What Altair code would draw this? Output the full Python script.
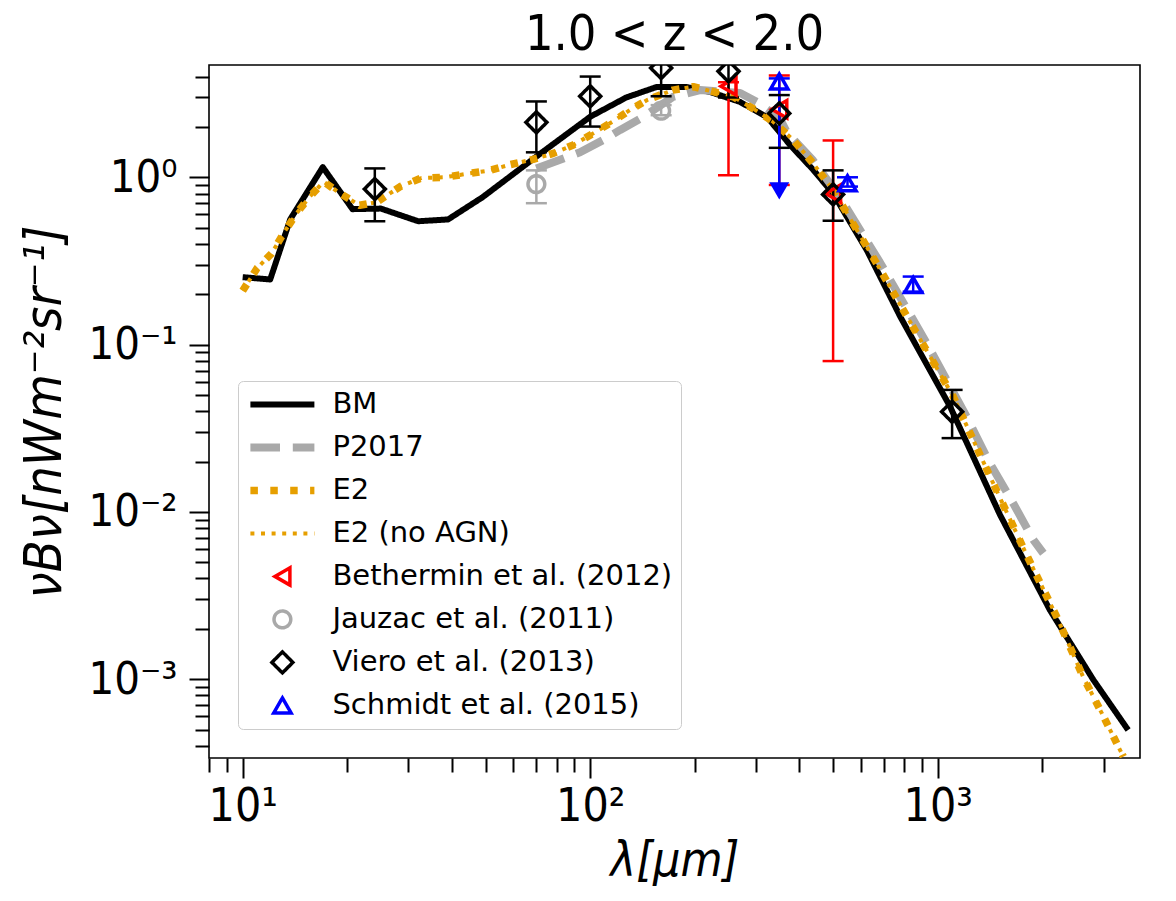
import altair as alt
import pandas as pd

# ---------------- model curves ----------------
BM_LAM = [10, 12, 13.7, 17, 20.7, 25, 32, 39, 49, 70, 100, 127, 155, 190, 221, 270,
          323, 376, 438, 500, 625, 780, 1086, 1511, 2103, 2805, 3531]
BM_VAL = [0.253, 0.245, 0.56, 1.15, 0.645, 0.65, 0.546, 0.56, 0.76, 1.33, 2.3, 3.0,
          3.46, 3.46, 3.24, 2.82, 2.29, 1.56, 1.11, 0.80, 0.367, 0.147, 0.0425,
          0.0096, 0.00259, 0.00099, 0.000497]

P17_LAM = [70, 93.5, 109, 122, 142, 173, 207, 270, 302, 351, 368, 438, 523, 682,
           929, 1211, 1413, 1651, 1885, 2013]
P17_VAL = [1.13, 1.41, 1.67, 1.92, 2.29, 3.02, 3.32, 3.19, 2.82, 2.25, 1.86, 1.26,
           0.76, 0.31, 0.102, 0.037, 0.0195, 0.0112, 0.0068, 0.00566]

E2_LAM = [10, 11, 12.1, 13.2, 14.3, 15.6, 17.1, 19.1, 21.7, 24.3, 28.4, 32.7, 38.2,
          44.2, 51.5, 58.8, 68.5, 78.3, 89.4, 102, 116, 130, 146, 173, 198, 258,
          294, 336, 384, 438, 500, 667, 832, 1109, 1416, 1804, 2200, 2622, 2998, 3421]
E2_VAL = [0.21, 0.286, 0.35, 0.473, 0.61, 0.766, 0.94, 0.80, 0.68, 0.71, 0.88, 0.99,
          1.0, 1.05, 1.10, 1.19, 1.28, 1.39, 1.56, 1.83, 2.15, 2.52, 2.90, 3.32, 3.48,
          3.03, 2.58, 2.15, 1.67, 1.21, 0.84, 0.306, 0.137, 0.0488, 0.0162, 0.0055,
          0.00236, 0.00103, 0.00060, 0.000344]

# E2 without AGN lies under E2 over the whole range
E2N_LAM = list(E2_LAM)
E2N_VAL = list(E2_VAL)

# ---------------- observations ----------------
BET_LAM = [250, 350, 500]
BET_VAL = [3.5, 2.55, 0.8]
BET_LO = [1.03, 0.9, 0.0797]
BET_HI = [3.7, 4.06, 1.66]

JAU_LAM = [70, 160]
JAU_VAL = [0.91, 2.5]
JAU_LO = [0.70, 2.35]
JAU_HI = [1.10, 2.70]

VIE_LAM = [24, 70, 100, 160, 250, 350, 500, 1100]
VIE_VAL = [0.85, 2.13, 3.05, 4.5, 4.3, 2.41, 0.79, 0.0397]
VIE_LO = [0.546, 1.41, 2.01, 3.05, 3.0, 1.50, 0.55, 0.0276]
VIE_HI = [1.13, 2.84, 4.0, 6.0, 5.5, 3.10, 1.10, 0.0536]

SCH_LAM = [350, 550, 850]
SCH_VAL = [3.74, 0.92, 0.227]
SCH_LO = [0.83, 0.88, 0.207]
SCH_HI = [3.90, 1.00, 0.255]
SCH_LIMIT = [True, False, False]   # drawn as a downward arrow

# ---------------- series names and styles ----------------
SERIES = ["BM", "P2017", "E2", "E2 (no AGN)", "Bethermin et al. (2012)",
          "Jauzac et al. (2011)", "Viero et al. (2013)", "Schmidt et al. (2015)"]
COLORS = ["#000000", "#a9a9a9", "#e69f00", "#e69f00", "#ff0000", "#a9a9a9",
          "#000000", "#0000ff"]
DASHES = [[1, 0], [29.6, 12.8], [7.5, 12.4], [4, 6.6], [1, 0], [1, 0], [1, 0], [1, 0]]
SHAPES = ["stroke", "stroke", "stroke", "stroke", "triangle-left", "circle",
          "diamond", "triangle-up"]
SIZES = [4096, 4096, 4096, 4096, 300, 280, 441, 300]
WIDTHS = [6, 8, 7.5, 4, 3.5, 3.5, 3.5, 3.5]
COLOR_OF = dict(zip(SERIES, COLORS))

X_DOMAIN = [8, 3820]
Y_DOMAIN = [3.38e-4, 4.69]

# ---------------- tables ----------------
def curve(name, lam, val):
    return pd.DataFrame({"series": name, "lam": lam, "val": val,
                         "idx": list(range(len(lam)))})

obs_sets = [
    (SERIES[4], BET_LAM, BET_VAL, BET_LO, BET_HI, [False] * 3),
    (SERIES[5], JAU_LAM, JAU_VAL, JAU_LO, JAU_HI, [False] * 2),
    (SERIES[6], VIE_LAM, VIE_VAL, VIE_LO, VIE_HI, [False] * 8),
    (SERIES[7], SCH_LAM, SCH_VAL, SCH_LO, SCH_HI, SCH_LIMIT),
]
pts_rows, err_rows, cap_rows, arrow_rows = [], [], [], []
for name, lam, val, lo, hi, lim in obs_sets:
    c = COLOR_OF[name]
    for l, v, a, b, u in zip(lam, val, lo, hi, lim):
        pts_rows.append({"series": name, "lam": l, "val": v})
        err_rows.append({"series": name, "col": c, "lam": l, "lo": a, "hi": b})
        cap_rows.append({"series": name, "col": c, "lam": l, "val": b})
        if u:
            arrow_rows.append({"series": name, "col": c, "lam": l, "val": a})
        else:
            cap_rows.append({"series": name, "col": c, "lam": l, "val": a})
pts = pd.DataFrame(pts_rows)
err = pd.DataFrame(err_rows)
caps = pd.DataFrame(cap_rows)
arrows = pd.DataFrame(arrow_rows)

# ---------------- scales & axes ----------------
x_major = [10, 100, 1000]
x_minor = [8, 9] + [k * 10 for k in range(2, 10)] + [k * 100 for k in range(2, 10)] + [2000, 3000]
y_major = [0.001, 0.01, 0.1, 1]
y_minor = [k * 10.0 ** e for e in range(-4, 1) for k in range(2, 10)
           if Y_DOMAIN[0] <= k * 10.0 ** e <= Y_DOMAIN[1]]

xs = alt.Scale(type="log", domain=X_DOMAIN, nice=False)
ys = alt.Scale(type="log", domain=Y_DOMAIN, nice=False)

COND_FONT = "DejaVu Sans Condensed, DejaVu Sans"

x_axis = alt.Axis(
    values=x_major + x_minor,
    labelExpr="datum.value == 10 ? '10\u00b9' : datum.value == 100 ? '10\u00b2' : datum.value == 1000 ? '10\u00b3' : ''",
    tickSize={"condition": {"test": "datum.value == 10 || datum.value == 100 || datum.value == 1000", "value": 20}, "value": 14},
    tickWidth=2, tickColor="black", domain=False, grid=False,
    labelFont=COND_FONT, labelFontSize=46, labelColor="black", labelPadding=6,
    labelOverlap=False, labelFlush=False,
    title="\u03bb[\u03bcm]", titleFont=COND_FONT, titleFontStyle="italic",
    titleFontWeight="normal", titleFontSize=48, titleColor="black",
    titleX=465.5, titleY=117, titleAlign="center", titleBaseline="alphabetic",
)
y_axis = alt.Axis(
    values=y_major + y_minor,
    labelExpr="datum.value == 1 ? '10\u2070' : datum.value == 0.1 ? '10\u207b\u00b9' : datum.value == 0.01 ? '10\u207b\u00b2' : datum.value == 0.001 ? '10\u207b\u00b3' : ''",
    tickSize={"condition": {"test": "datum.value == 1 || datum.value == 0.1 || datum.value == 0.01 || datum.value == 0.001", "value": 20}, "value": 14},
    tickWidth=2, tickColor="black", domain=False, grid=False,
    labelFont=COND_FONT, labelFontSize=45, labelColor="black", labelPadding=12,
    labelOverlap=False, labelFlush=False,
    title="\u03bdB\u03bd[nWm\u207b\u00b2sr\u207b\u00b9]", titleFont=COND_FONT,
    titleFontStyle="italic", titleFontWeight="normal", titleFontSize=52,
    titleColor="black", titleX=-149, titleY=346.5, titleAngle=270,
    titleAlign="center", titleBaseline="alphabetic",
)

X = alt.X("lam:Q", scale=xs, axis=x_axis)
Y = alt.Y("val:Q", scale=ys, axis=y_axis)

color_sc = alt.Scale(domain=SERIES, range=COLORS)
dash_sc = alt.Scale(domain=SERIES, range=DASHES)
shape_sc = alt.Scale(domain=SERIES, range=SHAPES)
size_sc = alt.Scale(type="ordinal", domain=SERIES, range=SIZES)
width_sc = alt.Scale(type="ordinal", domain=SERIES, range=WIDTHS)

LEG = alt.Legend(
    title=None, orient="bottom-left", offset=29, padding=8.4,
    rowPadding=13, clipHeight=30, labelFont="DejaVu Sans", labelFontSize=29,
    labelColor="black", labelOffset=14, strokeColor="#cccccc", fillColor="white",
    cornerRadius=5, symbolOpacity=1, labelLimit=600,
)

def line_layer(i, lam, val):
    return alt.Chart(curve(SERIES[i], lam, val)).mark_line(
        clip=True, strokeCap="butt", strokeJoin="round", opacity=1,
        color=COLORS[i], strokeDash=DASHES[i], strokeWidth=WIDTHS[i],
    ).encode(x=X, y=Y, order="idx:Q")

lines = [line_layer(0, BM_LAM, BM_VAL),
         line_layer(1, P17_LAM, P17_VAL),
         line_layer(3, E2N_LAM, E2N_VAL),
         line_layer(2, E2_LAM, E2_VAL)]

rules = alt.Chart(err).mark_rule(strokeWidth=2.5, clip=True, opacity=1).encode(
    x=X, y=alt.Y("lo:Q", scale=ys, axis=y_axis), y2="hi:Q",
    color=alt.Color("col:N", scale=None),
)
cap_marks = alt.Chart(caps).mark_tick(orient="horizontal", size=21, thickness=2.5,
                                      clip=True, opacity=1).encode(
    x=X, y=Y, color=alt.Color("col:N", scale=None),
)
arrow_marks = alt.Chart(arrows).mark_point(shape="triangle-down", filled=True,
                                           size=400, opacity=1, clip=True).encode(
    x=X, y=Y, color=alt.Color("col:N", scale=None),
)
points = alt.Chart(pts).mark_point(filled=False, opacity=1, clip=True).encode(
    x=X, y=Y,
    color=alt.Color("series:N", scale=color_sc, legend=LEG),
    shape=alt.Shape("series:N", scale=shape_sc, legend=LEG),
    size=alt.Size("series:N", scale=size_sc, legend=LEG),
    strokeDash=alt.StrokeDash("series:N", scale=dash_sc, legend=LEG),
    strokeWidth=alt.StrokeWidth("series:N", scale=width_sc, legend=LEG),
)

chart = alt.layer(*lines, rules, cap_marks, arrow_marks, points).properties(
    width=931, height=693,
    title=alt.TitleParams("1.0 < z < 2.0", font=COND_FONT, fontSize=50,
                          fontWeight="normal", color="black", anchor="middle",
                          offset=12, dy=17),
    autosize=alt.AutoSizeParams(type="none"),
    padding={"left": 209, "top": 65, "right": 36, "bottom": 143},
    background="white",
).configure_view(stroke="black", strokeWidth=1.6)

chart.save("out.html", embed_options={"renderer": "svg", "actions": False})
